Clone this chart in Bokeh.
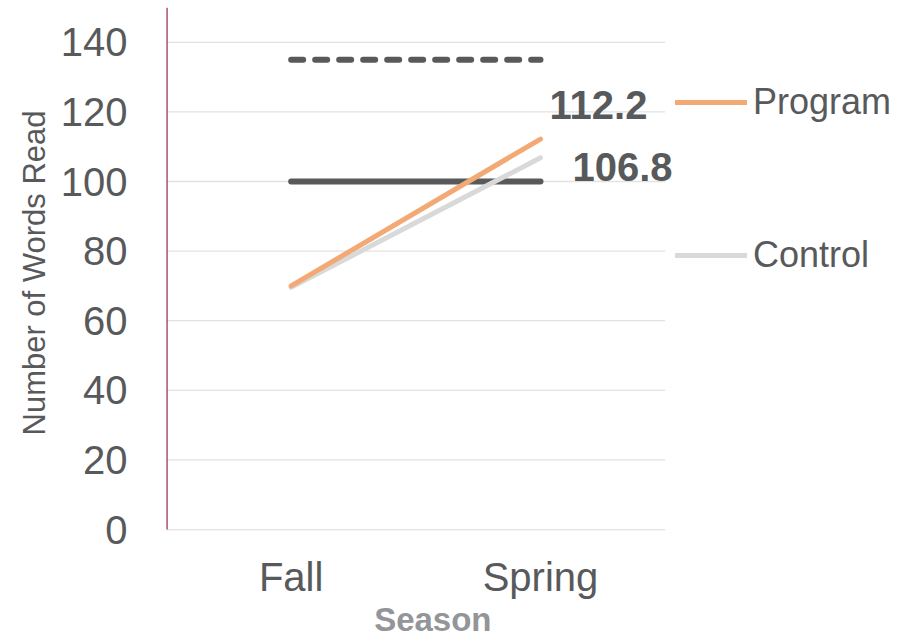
from bokeh.plotting import figure
from bokeh.models import Legend, LegendItem, Range1d, FixedTicker, Title
from bokeh.core.properties import value
from bokeh.embed import file_html
from bokeh.resources import INLINE

# ---- data ----
seasons = ["Fall", "Spring"]
program = [70.0, 112.2]
control = [69.6, 106.8]
benchmark_high = [135, 135]
benchmark_mid = [100, 100]
y_ticks = [0, 20, 40, 60, 80, 100, 120, 140]
end_labels = ["112.2", "106.8"]
x_title = "Season"
y_title = "Number of Words Read"

FONT = "Liberation Sans"
DARK = "#58595b"

# category centres on a numeric axis (each category is one unit wide)
n = len(seasons)
xs = [i + 0.5 for i in range(n)]
Y_TOP = 150
# layout: frame extends past the categories (right) and below zero (bottom)
X_END = 2.96
Y_BOTTOM = -31.6

p = figure(width=904, height=639, output_backend="svg", toolbar_location=None,
           x_range=Range1d(0, X_END), y_range=Range1d(Y_BOTTOM, Y_TOP),
           min_border_left=166, min_border_right=0, min_border_top=7, min_border_bottom=0)
p.outline_line_color = None
p.background_fill_color = "white"
p.xgrid.grid_line_color = None
p.ygrid.grid_line_color = None
p.xaxis.visible = False

# horizontal gridlines spanning the category area only
p.segment(x0=[0] * len(y_ticks), x1=[n] * len(y_ticks), y0=y_ticks, y1=y_ticks,
          line_color="#e2e2e2", line_width=1.3)

# y axis (line drawn separately so it stops at zero)
p.segment(x0=[0], x1=[0], y0=[0], y1=[Y_TOP], line_color="#8c1530", line_width=2.2)
p.yaxis.ticker = FixedTicker(ticks=y_ticks)
p.yaxis.axis_line_color = None
p.yaxis.major_tick_line_color = None
p.yaxis.minor_tick_line_color = None
p.yaxis.major_label_text_font = FONT
p.yaxis.major_label_text_font_size = "40px"
p.yaxis.major_label_text_color = DARK
p.yaxis.major_label_standoff = 33

# y title as a side title
p.add_layout(Title(text=y_title, align="left", offset=204, standoff=12,
                   text_font=FONT, text_font_size="31px", text_font_style="normal",
                   text_color=DARK), "left")

# x category labels and title
p.text(x=xs, y=[0] * n, text=seasons, y_offset=47,
       text_font=value(FONT), text_font_size="40px", text_color=DARK,
       text_align="center", text_baseline="middle")
p.text(x=[n / 2], y=[0], text=[x_title], x_offset=17, y_offset=90,
       text_font=value(FONT), text_font_size="33px", text_font_style="bold",
       text_color="#939598", text_align="center", text_baseline="middle")

# benchmark lines
p.line(x=xs, y=benchmark_high, line_color=DARK, line_width=6,
       line_dash="12 12", line_cap="round")
p.line(x=xs, y=benchmark_mid, line_color=DARK, line_width=6, line_cap="round")

# series
r_ctrl = p.line(x=xs, y=control, line_color="#d9d9d9", line_width=5, line_cap="round")
r_prog = p.line(x=xs, y=program, line_color="#f2a974", line_width=5, line_cap="round")

# end labels
p.text(x=[xs[1]], y=[program[1]], text=[end_labels[0]], x_offset=9, y_offset=-34,
       text_font=value(FONT), text_font_size="40px", text_font_style="bold",
       text_color=DARK, text_align="left", text_baseline="middle")
p.text(x=[xs[1]], y=[control[1]], text=[end_labels[1]], x_offset=32, y_offset=9,
       text_font=value(FONT), text_font_size="40px", text_font_style="bold",
       text_color=DARK, text_align="left", text_baseline="middle")

legend = Legend(items=[LegendItem(label="Program", renderers=[r_prog]),
                       LegendItem(label="Control", renderers=[r_ctrl])],
                location=(509, 362), orientation="vertical",
                glyph_width=72, glyph_height=44, label_height=44, spacing=109,
                label_standoff=6, padding=0, margin=0,
                label_text_font=FONT, label_text_font_size="36px", label_text_color=DARK,
                border_line_color=None, background_fill_alpha=0)
p.add_layout(legend, "center")

open("out.html", "w").write(file_html(p, INLINE))
